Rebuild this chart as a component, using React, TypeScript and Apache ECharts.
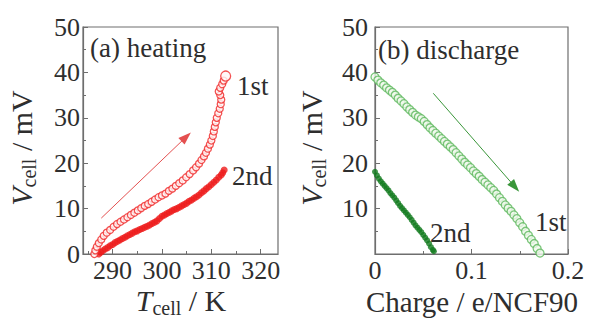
import React, { useEffect, useRef } from 'react';
import * as echarts from 'echarts';

// (a) heating: [T_cell (K), V_cell (mV)]
const heat1st: [number, number][] = [
  [286.3, 0.0], [286.5, 0.8], [286.8, 1.6], [287.2, 2.4], [287.7, 3.2], [288.2, 4.0], [288.8, 4.7],
  [289.5, 5.3], [290.2, 6.0], [290.9, 6.6], [291.6, 7.1], [292.3, 7.6], [293.0, 8.1], [293.7, 8.6],
  [294.4, 9.1], [295.1, 9.6], [295.8, 10.1], [296.5, 10.6], [297.2, 11.0], [297.9, 11.5], [298.6, 12.0],
  [299.3, 12.5], [300.0, 12.9], [300.7, 13.3], [301.4, 13.9], [302.1, 14.4], [302.8, 15.0], [303.5, 15.6],
  [304.2, 16.2], [304.9, 16.9], [305.6, 17.6], [306.3, 18.4], [306.9, 19.1], [307.5, 19.9], [308.0, 20.7],
  [308.5, 21.5], [308.9, 22.3], [309.3, 23.2], [309.7, 24.1], [310.0, 25.0], [310.3, 26.0], [310.5, 27.0],
  [310.7, 28.0], [310.9, 29.0], [311.1, 30.0], [311.4, 31.0], [311.7, 32.0], [311.9, 33.0], [312.0, 34.0],
  [311.8, 35.0], [311.5, 35.8], [311.8, 36.6], [312.2, 37.4], [312.5, 38.2], [312.9, 39.2],
];
const heat2nd: [number, number][] = [
  [287.2, 0.0], [287.6, 0.4], [288.0, 0.7], [288.5, 1.1], [289.0, 1.4], [289.5, 1.8], [290.0, 2.1],
  [290.5, 2.5], [291.0, 2.8], [291.5, 3.1], [292.0, 3.4], [292.5, 3.7], [293.0, 4.0], [293.5, 4.3],
  [294.0, 4.6], [294.5, 4.9], [295.0, 5.1], [295.5, 5.4], [296.0, 5.6], [296.5, 5.9], [297.0, 6.1],
  [297.5, 6.4], [298.0, 6.7], [298.5, 7.0], [299.0, 7.3], [299.5, 7.8], [300.0, 8.3], [300.5, 8.6],
  [301.0, 8.9], [301.5, 9.2], [302.0, 9.5], [302.5, 9.8], [303.0, 10.0], [303.5, 10.3], [304.0, 10.6],
  [304.5, 10.9], [305.0, 11.2], [305.5, 11.6], [306.0, 11.9], [306.5, 12.3], [307.0, 12.6], [307.5, 13.0],
  [308.0, 13.5], [308.5, 13.9], [309.0, 14.4], [309.5, 14.8], [310.0, 15.3], [310.5, 15.8], [311.0, 16.3],
  [311.5, 16.9], [312.0, 17.4], [312.3, 17.9], [312.6, 18.5],
];

// (b) discharge: [charge (e/NCF90), V_cell (mV)]
const dis1st: [number, number][] = [
  [0.000, 39.0], [0.003, 38.3], [0.006, 37.7], [0.009, 37.2], [0.012, 36.6], [0.015, 36.1], [0.018, 35.6],
  [0.021, 35.0], [0.024, 34.3], [0.027, 33.7], [0.030, 33.1], [0.033, 32.4], [0.036, 31.8], [0.039, 31.2],
  [0.042, 30.6], [0.045, 30.2], [0.048, 29.8], [0.051, 29.2], [0.054, 28.5], [0.057, 27.8], [0.060, 27.2],
  [0.063, 26.6], [0.066, 26.0], [0.069, 25.4], [0.072, 24.8], [0.075, 24.2], [0.078, 23.6], [0.081, 23.0],
  [0.084, 22.3], [0.087, 21.6], [0.090, 20.9], [0.093, 20.2], [0.096, 19.6], [0.099, 19.0], [0.102, 18.3],
  [0.105, 17.7], [0.108, 17.1], [0.111, 16.4], [0.114, 15.8], [0.117, 15.2], [0.120, 14.6], [0.123, 14.0],
  [0.126, 13.2], [0.129, 12.4], [0.132, 11.6], [0.135, 10.8], [0.138, 10.1], [0.141, 9.4], [0.144, 8.6],
  [0.147, 7.8], [0.150, 6.9], [0.153, 6.0], [0.156, 5.0], [0.159, 4.1], [0.162, 3.2], [0.165, 2.3],
  [0.168, 1.2], [0.171, 0.2],
];
const dis2nd: [number, number][] = [
  [0.000, 18.1], [0.002, 17.3], [0.004, 16.6], [0.006, 16.0], [0.008, 15.5], [0.010, 15.0], [0.012, 14.5],
  [0.014, 14.0], [0.016, 13.4], [0.018, 12.9], [0.020, 12.4], [0.022, 11.8], [0.024, 11.2], [0.026, 10.6],
  [0.028, 10.1], [0.030, 9.6], [0.032, 9.1], [0.034, 8.6], [0.036, 8.1], [0.038, 7.5], [0.040, 6.9],
  [0.042, 6.3], [0.044, 5.8], [0.046, 5.3], [0.048, 4.8], [0.050, 4.2], [0.052, 3.6], [0.054, 3.0],
  [0.056, 2.3], [0.058, 1.5], [0.060, 0.9], [0.061, 0.6],
];

const leftXLabels = [290, 300, 310, 320];
const leftXMinor = [285, 295, 305, 315];
const heatArrow: [number, number][] = [[287.7, 7.9], [304.9, 25.8]];
const disArrow: [number, number][] = [[0.0604, 35.4], [0.145, 14.8]];

const FONT = "'Liberation Serif', 'Times New Roman', Times, serif";
const AXIS = '#6e6e6e';
const TXT = '#2e2e2e';

export default function App() {
  const ref = useRef<HTMLDivElement>(null);
  useEffect(() => {
    document.body.style.margin = '0';
    const chart = echarts.init(ref.current!, undefined, { renderer: 'svg' });
    const tickLabel = { color: TXT, fontFamily: FONT, fontSize: 26 };
    const lineStyle = { color: AXIS, width: 1.2 };
    const vTitleRich = {
      v: { fontSize: 30, fontStyle: 'italic', fontFamily: FONT, fill: TXT, color: TXT, lineHeight: 32, verticalAlign: 'top' },
      s: { fontSize: 20, fontFamily: FONT, fill: TXT, color: TXT, lineHeight: 20, padding: [13, 0, 0, 0], verticalAlign: 'top' },
      n: { fontSize: 30, fontFamily: FONT, fill: TXT, color: TXT, lineHeight: 32, verticalAlign: 'top' },
    };
    const txt = (text: string, x: number, y: number, size = 27) => ({
      type: 'text', x, y, silent: true,
      style: { text, fontSize: size, fontFamily: FONT, fill: TXT, align: 'left', verticalAlign: 'middle' },
    });
    const option: any = {
      animation: false,
      backgroundColor: '#fff',
      textStyle: { fontFamily: FONT },
      grid: [
        { left: 83, top: 27, width: 195, height: 227, show: true, borderColor: AXIS, borderWidth: 1.2 },
        { left: 375, top: 27, width: 193, height: 227, show: true, borderColor: AXIS, borderWidth: 1.2 },
      ],
      xAxis: [
        {
          gridIndex: 0, type: 'value', min: 284, max: 323.5, splitLine: { show: false },
          axisLine: { lineStyle },
          axisTick: { inside: true, length: 5, customValues: leftXLabels, lineStyle: { color: AXIS } },
          axisLabel: { ...tickLabel, margin: 3, customValues: leftXLabels },
        },
        {
          gridIndex: 0, type: 'value', min: 284, max: 323.5, position: 'bottom', splitLine: { show: false },
          axisLine: { show: false }, axisLabel: { show: false },
          axisTick: { inside: true, length: 3, customValues: leftXMinor, lineStyle: { color: AXIS } },
        },
        {
          gridIndex: 1, type: 'value', min: 0, max: 0.2, interval: 0.1, splitLine: { show: false },
          axisLine: { lineStyle },
          axisTick: { inside: true, length: 5, lineStyle: { color: AXIS } },
          minorTick: { show: true, splitNumber: 2, length: 3, lineStyle: { color: AXIS } },
          axisLabel: { ...tickLabel, margin: 3, formatter: (v: number) => String(+v.toFixed(1)) },
        },
      ],
      yAxis: [
        {
          gridIndex: 0, type: 'value', min: 0, max: 50, interval: 10, splitLine: { show: false },
          axisLine: { lineStyle },
          axisTick: { inside: true, length: 5, lineStyle: { color: AXIS } },
          minorTick: { show: true, splitNumber: 2, length: 3, lineStyle: { color: AXIS } },
          axisLabel: { ...tickLabel, margin: 3 },
        },
        {
          gridIndex: 1, type: 'value', min: 0, max: 50, interval: 10, splitLine: { show: false },
          axisLine: { lineStyle },
          axisTick: { inside: true, length: 5, lineStyle: { color: AXIS } },
          minorTick: { show: true, splitNumber: 2, length: 3, lineStyle: { color: AXIS } },
          axisLabel: { ...tickLabel, margin: 7, showMinLabel: false },
        },
      ],
      series: [
        {
          type: 'scatter', xAxisIndex: 0, yAxisIndex: 0, data: heat2nd, symbol: 'circle', symbolSize: 7,
          itemStyle: { color: '#ee1c1c' }, silent: true,
        },
        {
          type: 'scatter', xAxisIndex: 0, yAxisIndex: 0, symbol: 'circle',
          data: heat1st.map((p, i) => (i === heat1st.length - 1 ? { value: p, symbolSize: 10 } : p)),
          symbolSize: 7,
          itemStyle: { color: '#fff6f6', borderColor: '#f02828', borderWidth: 1.3 }, silent: true,
          markLine: {
            silent: true, symbol: ['none', 'triangle'], symbolSize: [9, 13], label: { show: false },
            lineStyle: { color: '#e45050', width: 1, type: 'solid' },
            data: [[{ coord: heatArrow[0] }, { coord: heatArrow[1] }]],
          },
        },
        {
          type: 'scatter', xAxisIndex: 2, yAxisIndex: 1, data: dis2nd, symbol: 'circle', symbolSize: 6,
          itemStyle: { color: '#127a1e' }, silent: true,
        },
        {
          type: 'scatter', xAxisIndex: 2, yAxisIndex: 1, data: dis1st, symbol: 'circle', symbolSize: 8,
          itemStyle: { color: '#f0f9ec', borderColor: '#5cb85c', borderWidth: 1.3 }, silent: true,
          markLine: {
            silent: true, symbol: ['none', 'triangle'], symbolSize: [9, 13], label: { show: false },
            lineStyle: { color: '#3a963a', width: 1, type: 'solid' },
            data: [[{ coord: disArrow[0] }, { coord: disArrow[1] }]],
          },
        },
      ],
      graphic: [
        txt('(a) heating', 90, 48),
        txt('1st', 237, 86),
        txt('2nd', 232, 176),
        txt('(b) discharge', 378, 50),
        txt('1st', 535, 222),
        txt('2nd', 430, 233),
        {
          type: 'text', x: 181, y: 301, silent: true,
          style: { text: '{v|T}{s|cell}{n| / K}', rich: vTitleRich, align: 'center', verticalAlign: 'middle' },
        },
        {
          type: 'text', x: 472, y: 302, silent: true,
          style: { text: 'Charge / e/NCF90', fontSize: 29, fontFamily: FONT, fill: TXT, align: 'center', verticalAlign: 'middle' },
        },
        {
          type: 'text', x: 22, y: 148, rotation: Math.PI / 2, silent: true,
          style: { text: '{v|V}{s|cell}{n| / mV}', rich: vTitleRich, align: 'center', verticalAlign: 'middle' },
        },
        {
          type: 'text', x: 312, y: 148, rotation: Math.PI / 2, silent: true,
          style: { text: '{v|V}{s|cell}{n| / mV}', rich: vTitleRich, align: 'center', verticalAlign: 'middle' },
        },
      ],
    };
    chart.setOption(option);
    return () => chart.dispose();
  }, []);
  return <div ref={ref} style={{ width: 590, height: 320 }} />;
}
